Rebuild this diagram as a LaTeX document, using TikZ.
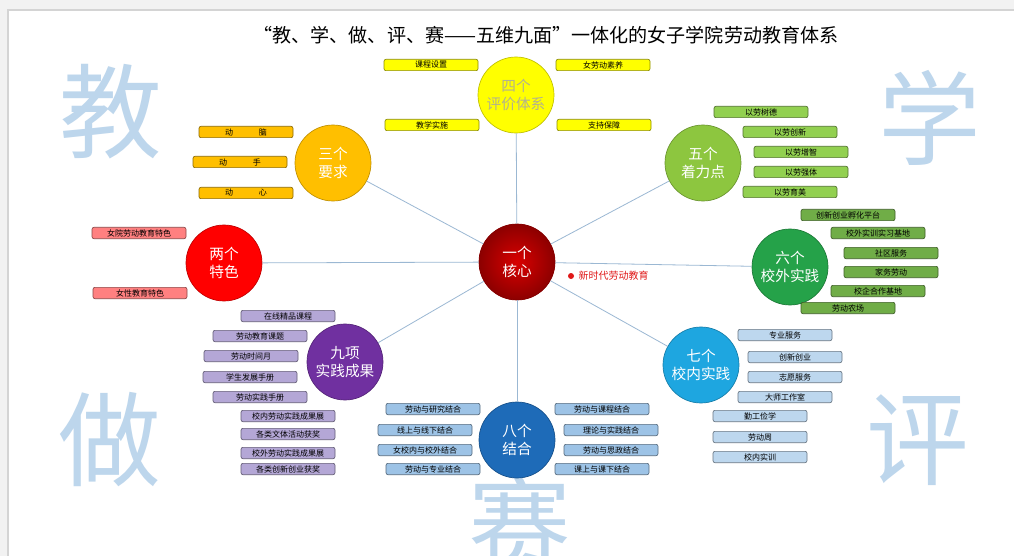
\documentclass[tikz,border=0pt]{standalone}
\usepackage{fontspec}
\setmainfont{Noto Sans CJK SC}
\usetikzlibrary{positioning}
\definecolor{bgc}{HTML}{F2F2F2}
\definecolor{framec}{HTML}{D4D4D4}
\definecolor{zic}{HTML}{BDD6EC}
\definecolor{linkc}{HTML}{9BB8D3}
\definecolor{yelc}{HTML}{FFFF00}
\definecolor{yelt}{HTML}{B2B28E}
\definecolor{ambc}{HTML}{FFBF00}
\definecolor{lgrc}{HTML}{8DC63F}
\definecolor{lgrb}{HTML}{92D050}
\definecolor{redc}{HTML}{FF0000}
\definecolor{redb}{HTML}{FF8080}
\definecolor{grnc}{HTML}{25A249}
\definecolor{grnb}{HTML}{70AD47}
\definecolor{purc}{HTML}{7030A0}
\definecolor{purb}{HTML}{B4A7D6}
\definecolor{skyc}{HTML}{1EA6E0}
\definecolor{skyb}{HTML}{BDD7EE}
\definecolor{bluc}{HTML}{1E6BB8}
\definecolor{blub}{HTML}{9DC3E6}
\definecolor{dotc}{HTML}{E01818}

\begin{document}
\begin{tikzpicture}[x=0.75pt,y=-0.75pt,
  hub/.style={circle,minimum size=57pt,inner sep=0pt,align=center,
    font=\fontsize{11}{13}\selectfont,text=white,line width=0.5pt,
    fill=#1,draw=#1!75!black},
  tag/.style={rounded corners=1.5pt,minimum width=70.5pt,minimum height=8.5pt,
    inner sep=0pt,line width=0.5pt,font=\fontsize{6}{6}\selectfont,
    fill=#1,draw=#1!55!black},
  bigzi/.style={text=zic,font=\fontsize{77}{77}\selectfont},
  link/.style={draw=linkc,line width=0.6pt}]
\useasboundingbox (0,0) rectangle (1014,556);
\fill[bgc] (0,0) rectangle (1014,556);
\draw[framec,fill=white,line width=1.2pt] (8,10) rectangle (1030,580);
%
% big characters
\node[bigzi] (jiao) at (111,112) {教};
\node[bigzi] (xue)  at (930,118) {学};
\node[bigzi] (zuo)  at (110,440) {做};
\node[bigzi] (ping) at (918,440) {评};
\node[bigzi] (sai)  at (520,524) {赛};
%
\node (title) at (546,35) {\fontsize{14.3}{15}\selectfont “教、学、做、评、赛——五维九面”一体化的女子学院劳动教育体系};
%
% circles
\node[hub=red,inner color=red!85!black,outer color=red!55!black,draw=red!50!black] (core) at (517,262) {一个\\核心};
\node[hub=yelc,text=yelt] (pj) at (516,95) {四个\\评价体系};
\node[hub=ambc] (yq) at (333,163) {三个\\要求};
\node[hub=lgrc] (zl) at (703,163) {五个\\着力点};
\node[hub=redc] (ts) at (224,263) {两个\\特色};
\node[hub=grnc] (xw) at (790,267) {六个\\校外实践};
\node[hub=purc] (cg) at (345,362) {九项\\实践成果};
\node[hub=skyc] (xn) at (701,365) {七个\\校内实践};
\node[hub=bluc] (jh) at (517,440) {八个\\结合};
%
\draw[link] (core) -- (pj);
\draw[link] (core) -- (yq);
\draw[link] (core) -- (zl);
\draw[link] (core) -- (ts);
\draw[link] (core) -- (xw);
\draw[link] (core) -- (cg);
\draw[link] (core) -- (xn);
\draw[link] (core) -- (jh);
%
\node[circle,fill=dotc,inner sep=0pt,minimum size=4.5pt] (dot) at (571,276) {};
\node[right=3pt of dot,inner sep=0pt,text=dotc,font=\fontsize{7.5}{8}\selectfont] (xsd) {新时代劳动教育};
%
% four
\node[tag=yelc] (pj1) at (431,65) {课程设置};
\node[tag=yelc] (pj2) at (603,65) {女劳动素养};
\node[tag=yelc] (pj3) at (432,125) {教学实施};
\node[tag=yelc] (pj4) at (604,125) {支持保障};
% three
\node[tag=ambc] (yq1) at (246,132) {动\hspace{3.2em}脑};
\node[tag=ambc] (yq2) at (240,162) {动\hspace{3.2em}手};
\node[tag=ambc] (yq3) at (246,193) {动\hspace{3.2em}心};
% five
\node[tag=lgrb] (zl1) at (761,112) {以劳树德};
\node[tag=lgrb] (zl2) at (790,132) {以劳创新};
\node[tag=lgrb] (zl3) at (801,152) {以劳增智};
\node[tag=lgrb] (zl4) at (801,172) {以劳强体};
\node[tag=lgrb] (zl5) at (790,192) {以劳育美};
% two
\node[tag=redb] (ts1) at (139,233) {女院劳动教育特色};
\node[tag=redb] (ts2) at (140,293) {女性教育特色};
% six
\node[tag=grnb] (xw1) at (848,215) {创新创业孵化平台};
\node[tag=grnb] (xw2) at (878,233) {校外实训实习基地};
\node[tag=grnb] (xw3) at (891,253) {社区服务};
\node[tag=grnb] (xw4) at (891,272) {家务劳动};
\node[tag=grnb] (xw5) at (878,291) {校企合作基地};
\node[tag=grnb] (xw6) at (848,308) {劳动农场};
% nine
\node[tag=purb] (cg1) at (288,316) {在线精品课程};
\node[tag=purb] (cg2) at (260,336) {劳动教育课题};
\node[tag=purb] (cg3) at (251,356) {劳动时间月};
\node[tag=purb] (cg4) at (250,377) {学生发展手册};
\node[tag=purb] (cg5) at (260,397) {劳动实践手册};
\node[tag=purb] (cg6) at (288,416) {校内劳动实践成果展};
\node[tag=purb] (cg7) at (288,434) {各类文体活动获奖};
\node[tag=purb] (cg8) at (288,453) {校外劳动实践成果展};
\node[tag=purb] (cg9) at (288,469) {各类创新创业获奖};
% seven
\node[tag=skyb] (xn1) at (785,335) {专业服务};
\node[tag=skyb] (xn2) at (795,357) {创新创业};
\node[tag=skyb] (xn3) at (795,377) {志愿服务};
\node[tag=skyb] (xn4) at (785,397) {大师工作室};
\node[tag=skyb] (xn5) at (760,416) {勤工俭学};
\node[tag=skyb] (xn6) at (760,437) {劳动周};
\node[tag=skyb] (xn7) at (760,457) {校内实训};
% eight
\node[tag=blub] (jh1) at (433,409) {劳动与研究结合};
\node[tag=blub] (jh2) at (425,430) {线上与线下结合};
\node[tag=blub] (jh3) at (425,450) {女校内与校外结合};
\node[tag=blub] (jh4) at (433,469) {劳动与专业结合};
\node[tag=blub] (jh5) at (602,409) {劳动与课程结合};
\node[tag=blub] (jh6) at (611,430) {理论与实践结合};
\node[tag=blub] (jh7) at (611,450) {劳动与思政结合};
\node[tag=blub] (jh8) at (602,469) {课上与课下结合};
\end{tikzpicture}
\end{document}
